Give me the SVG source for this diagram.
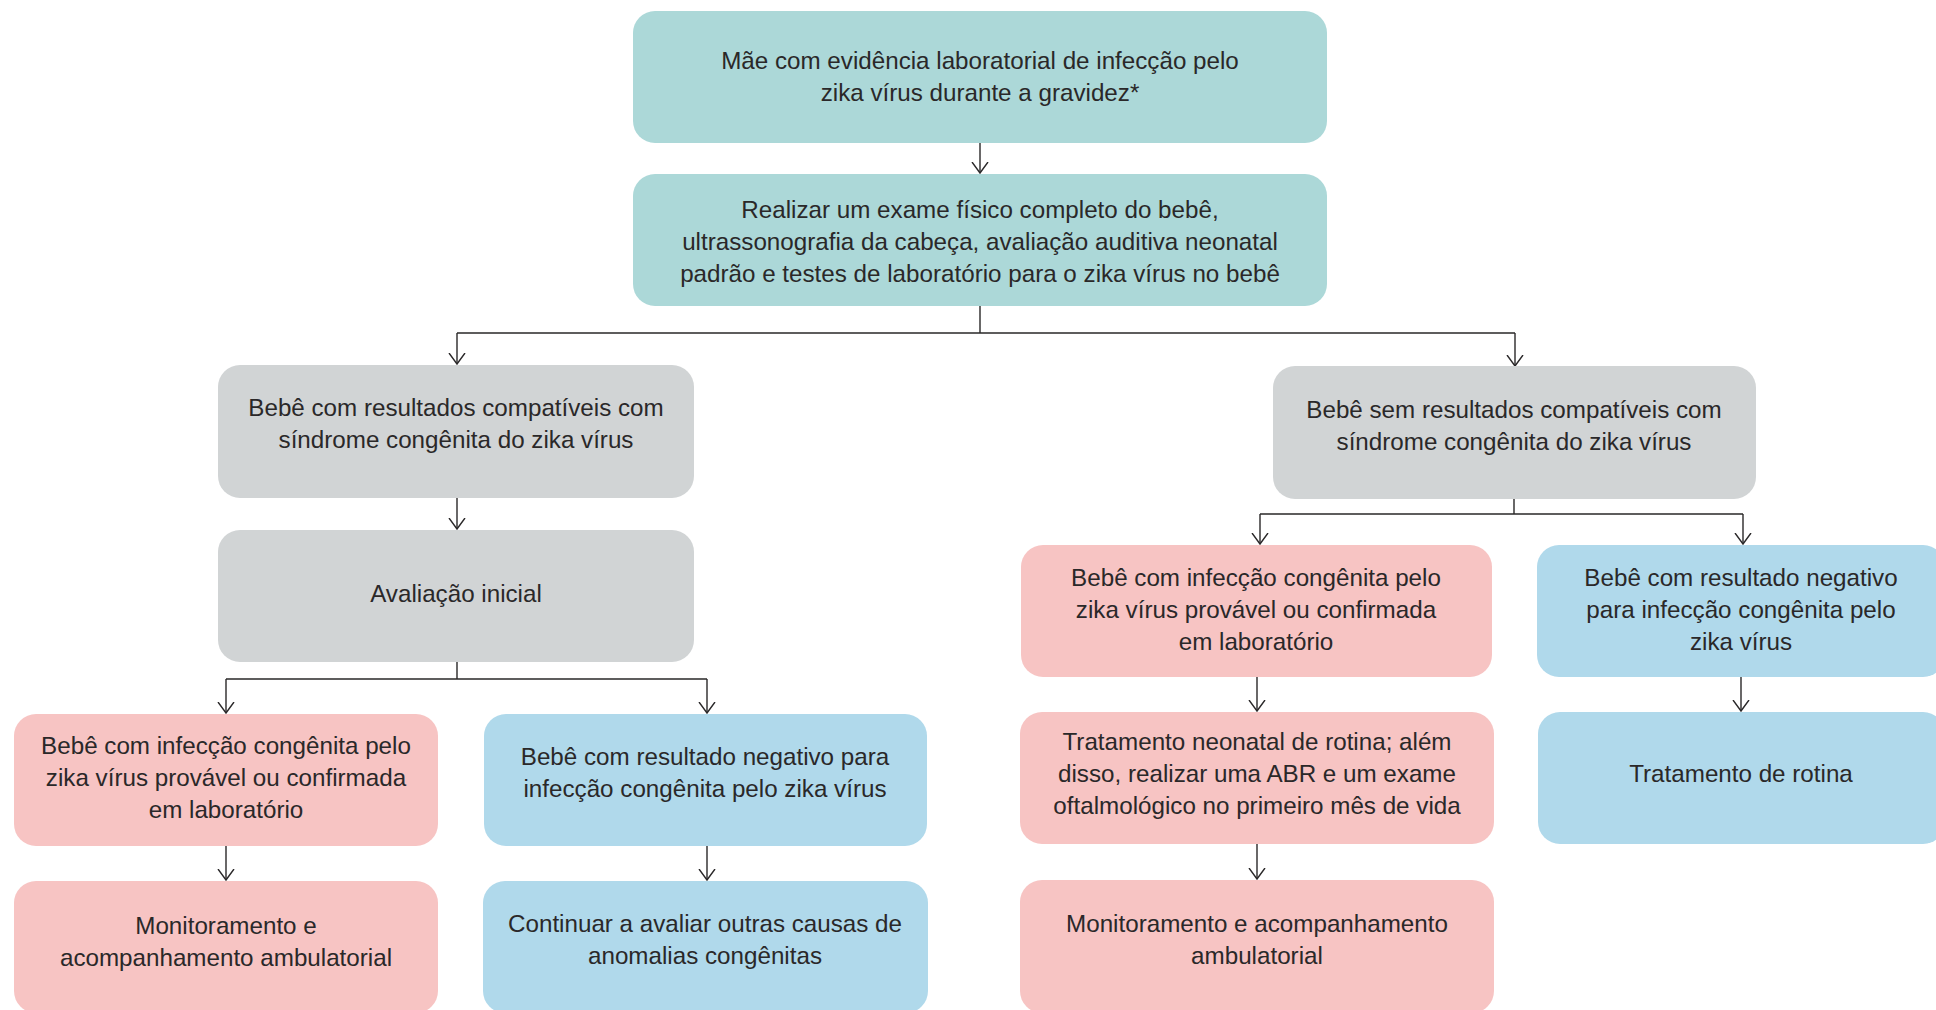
<svg xmlns="http://www.w3.org/2000/svg" width="1936" height="1010" viewBox="0 0 1936 1010">
<defs>
<style>
.box{stroke:none}
.teal{fill:#acd8d8}
.gray{fill:#d1d4d5}
.pink{fill:#f7c4c3}
.blue{fill:#b0d9eb}
text{font-family:"Liberation Sans",Arial,sans-serif;font-size:24.2px;fill:#2a2829;text-anchor:middle}
.conn{fill:none;stroke:#2a2829;stroke-width:1.4}
</style>
<marker id="arr" viewBox="0 0 13 18" refX="11.5" refY="9" markerWidth="13" markerHeight="18" markerUnits="userSpaceOnUse" orient="auto">
<path d="M0.5,1 L11.5,9 L0.5,17" fill="none" stroke="#2a2829" stroke-width="1.4"/>
</marker>
</defs>
<rect width="1936" height="1010" fill="#ffffff"/>

<g id="connectors">
<path class="conn" d="M980,143 V173" marker-end="url(#arr)"/>
<path class="conn" d="M980,306 V333 M457,333 H1515"/>
<path class="conn" d="M457,333 V364" marker-end="url(#arr)"/>
<path class="conn" d="M1515,333 V366" marker-end="url(#arr)"/>
<path class="conn" d="M457,498 V529" marker-end="url(#arr)"/>
<path class="conn" d="M457,662 V679 M226,679 H707"/>
<path class="conn" d="M226,679 V713" marker-end="url(#arr)"/>
<path class="conn" d="M707,679 V713" marker-end="url(#arr)"/>
<path class="conn" d="M226,846 V880" marker-end="url(#arr)"/>
<path class="conn" d="M707,846 V880" marker-end="url(#arr)"/>
<path class="conn" d="M1514,499 V514 M1260,514 H1743"/>
<path class="conn" d="M1260,514 V544" marker-end="url(#arr)"/>
<path class="conn" d="M1743,514 V544" marker-end="url(#arr)"/>
<path class="conn" d="M1257,677 V711" marker-end="url(#arr)"/>
<path class="conn" d="M1257,844 V879" marker-end="url(#arr)"/>
<path class="conn" d="M1741,677 V711" marker-end="url(#arr)"/>
</g>

<g id="n1">
<rect class="box teal" x="633" y="11" width="694" height="132" rx="22"/>
<text x="980" y="69">Mãe com evidência laboratorial de infecção pelo</text>
<text x="980" y="101">zika vírus durante a gravidez*</text>
</g>

<g id="n2">
<rect class="box teal" x="633" y="174" width="694" height="132" rx="22"/>
<text x="980" y="218">Realizar um exame físico completo do bebê,</text>
<text x="980" y="250">ultrassonografia da cabeça, avaliação auditiva neonatal</text>
<text x="980" y="282">padrão e testes de laboratório para o zika vírus no bebê</text>
</g>

<g id="n3">
<rect class="box gray" x="218" y="365" width="476" height="133" rx="22"/>
<text x="456" y="416">Bebê com resultados compatíveis com</text>
<text x="456" y="448">síndrome congênita do zika vírus</text>
</g>

<g id="n4">
<rect class="box gray" x="218" y="530" width="476" height="132" rx="22"/>
<text x="456" y="602">Avaliação inicial</text>
</g>

<g id="n5">
<rect class="box pink" x="14" y="714" width="424" height="132" rx="22"/>
<text x="226" y="754">Bebê com infecção congênita pelo</text>
<text x="226" y="786">zika vírus provável ou confirmada</text>
<text x="226" y="818">em laboratório</text>
</g>

<g id="n6">
<rect class="box blue" x="484" y="714" width="443" height="132" rx="22"/>
<text x="705" y="765">Bebê com resultado negativo para</text>
<text x="705" y="797">infecção congênita pelo zika vírus</text>
</g>

<g id="n7">
<rect class="box pink" x="14" y="881" width="424" height="132" rx="22"/>
<text x="226" y="934">Monitoramento e</text>
<text x="226" y="966">acompanhamento ambulatorial</text>
</g>

<g id="n8">
<rect class="box blue" x="483" y="881" width="445" height="132" rx="22"/>
<text x="705" y="932">Continuar a avaliar outras causas de</text>
<text x="705" y="964">anomalias congênitas</text>
</g>

<g id="n9">
<rect class="box gray" x="1273" y="366" width="483" height="133" rx="22"/>
<text x="1514" y="418">Bebê sem resultados compatíveis com</text>
<text x="1514" y="450">síndrome congênita do zika vírus</text>
</g>

<g id="n10">
<rect class="box pink" x="1021" y="545" width="471" height="132" rx="22"/>
<text x="1256" y="586">Bebê com infecção congênita pelo</text>
<text x="1256" y="618">zika vírus provável ou confirmada</text>
<text x="1256" y="650">em laboratório</text>
</g>

<g id="n11">
<rect class="box blue" x="1537" y="545" width="408" height="132" rx="22"/>
<text x="1741" y="586">Bebê com resultado negativo</text>
<text x="1741" y="618">para infecção congênita pelo</text>
<text x="1741" y="650">zika vírus</text>
</g>

<g id="n12">
<rect class="box pink" x="1020" y="712" width="474" height="132" rx="22"/>
<text x="1257" y="750">Tratamento neonatal de rotina; além</text>
<text x="1257" y="782">disso, realizar uma ABR e um exame</text>
<text x="1257" y="814">oftalmológico no primeiro mês de vida</text>
</g>

<g id="n13">
<rect class="box blue" x="1538" y="712" width="407" height="132" rx="22"/>
<text x="1741" y="782">Tratamento de rotina</text>
</g>

<g id="n14">
<rect class="box pink" x="1020" y="880" width="474" height="133" rx="22"/>
<text x="1257" y="932">Monitoramento e acompanhamento</text>
<text x="1257" y="964">ambulatorial</text>
</g>
</svg>
